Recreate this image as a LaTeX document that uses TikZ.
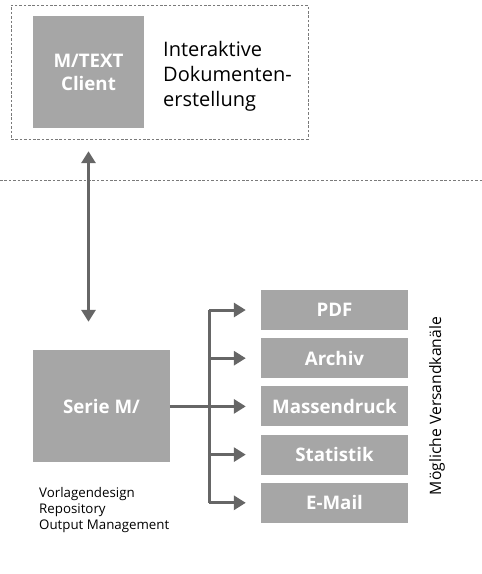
\documentclass[tikz,border=0pt]{standalone}
\usepackage{fontspec}
\setmainfont{Open Sans}
\usetikzlibrary{calc, arrows.meta}
\definecolor{boxgray}{HTML}{A6A6A6}
\definecolor{linkgray}{HTML}{666666}
\definecolor{dotgray}{HTML}{7A7A7A}
\newcommand{\fsize}[2]{\fontsize{#1}{#2}\selectfont}

\begin{document}
\begin{tikzpicture}[x=1pt,y=-1pt,
    box/.style={fill=boxgray, text=white, inner sep=0pt, align=center, font=\bfseries\fsize{18.7}{23}},
    frame/.style={draw=dotgray, line width=1pt, dash pattern=on 2.6pt off 1.8pt},
    line/.style={draw=linkgray, line width=3pt},
    link/.style={line, -{Triangle[length=12pt,width=14pt]}},
    dlink/.style={line, {Triangle[length=12pt,width=14pt]}-{Triangle[length=12pt,width=14pt]}}]
            \useasboundingbox (0,0) rectangle (482,574);
            \node[frame, minimum width=297pt, minimum height=134pt] (front) at (159.5,72) {};
            \node[box, minimum width=111pt, minimum height=112pt] (client) at (88.5,72) {M/TEXT\\Client};
            \node[anchor=north west, inner sep=0pt, align=left, font=\fsize{20}{25}] (create) at (163,41) {Interaktive\\Dokumenten-\\erstellung};
            \draw[frame] (0,180)--(482,180);
            \node[box, minimum width=137pt, minimum height=112pt] (serie) at (101.5,406) {Serie M/};
            \node[anchor=north west, inner sep=0pt, align=left, font=\fsize{13.3}{16}] (tasks) at (39,487) {Vorlagendesign\\Repository\\Output Management};
            \draw[dlink] ($(client.south)+(0,23)$)--($(client.south |- serie.north)+(0,-28)$);
            \foreach \name/\label [count=\i] in {pdf/PDF, archiv/Archiv, druck/Massendruck, stat/Statistik, mail/E-Mail}
                \node[box, minimum width=147pt, minimum height=40pt] (\name) at (334.5,{310+48.2*(\i-1)}) {\label};
            \coordinate (hub) at ($(serie.east)+(39,0)$);
            \draw[line] (serie.east)--(hub);
            \draw[line, line cap=square] (hub |- pdf)--(hub |- mail);
            \foreach \name in {pdf, archiv, druck, stat, mail}
                \draw[link] (hub |- \name)--($(\name.west)+(-15,0)$);
            \node[rotate=90, inner sep=0pt, font=\fsize{15.7}{18}] (channels) at (437,406) {Mögliche Versandkanäle};
        \end{tikzpicture}
\end{document}
